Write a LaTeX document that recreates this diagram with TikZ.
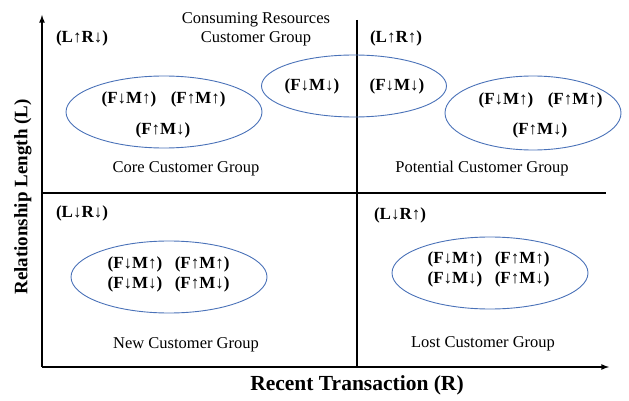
\documentclass[tikz,border=0pt]{standalone}
\usepackage{fontspec}
\setmainfont{Liberation Serif}
\usepackage{xcolor}
\usetikzlibrary{shapes,arrows,positioning}
\definecolor{groupblue}{HTML}{4A72B8}
\tikzset{
  group/.style={ellipse, draw=groupblue, line width=0.9pt},
  quad/.style={font=\bfseries\fontsize{17}{19}\selectfont, inner sep=1pt},
  fm/.style={font=\bfseries\fontsize{17}{19}\selectfont, inner sep=1pt},
  grpname/.style={font=\fontsize{16.5}{19}\selectfont, inner sep=1pt, align=center},
  axislabel/.style={font=\bfseries\fontsize{21.5}{23}\selectfont, inner sep=1pt},
  axisline/.style={line width=1.6pt}
}
\begin{document}
\begin{tikzpicture}[x=1pt,y=-1pt]
\useasboundingbox (0,0) rectangle (629,401);
% axes
\coordinate (O) at (42,367);
\coordinate (ytip) at (42,15);
\coordinate (xtip) at (609,367);
\coordinate (vtop) at (357,20);
\coordinate (vbot) at (357,367);
\coordinate (hleft) at (42,193);
\coordinate (hright) at (606,193);
\draw[axisline,-latex] (O) -- (ytip);
\draw[axisline,-latex] (O) -- (xtip);
\draw[axisline] (vtop) -- (vbot);
\draw[axisline] (hleft) -- (hright);
\node[axislabel] (xlab) at (357,385) {Recent Transaction (R)};
\node[axislabel, font=\bfseries\fontsize{19}{21}\selectfont, rotate=90] (ylab) at (23,197) {Relationship Length (L)};

% quadrant tags
\node[quad] (q1) at (82,38) {(L↑R↓)};%
\node[quad] (q2) at (396,38) {(L↑R↑)};%
\node[quad] (q3) at (82,213) {(L↓R↓)};%
\node[quad] (q4) at (400,215) {(L↓R↑)};%

% groups
\node[group, minimum width=196, minimum height=72] (core) at (164,112) {};%
\node[group, minimum width=185, minimum height=62] (cons) at (354,86) {};%
\node[group, minimum width=176, minimum height=74] (pot) at (533,113) {};%
\node[group, minimum width=196, minimum height=72] (new) at (169,277) {};%
\node[group, minimum width=196, minimum height=72] (lost) at (490,273) {};%

% core
\node[fm] (c1) at (129,99) {(F↓M↑)};%
\node[fm, right=12pt of c1] (c2) {(F↑M↑)};%
\node[fm] (c3) at (163,130) {(F↑M↓)};%
\node[grpname] (corename) at (186,169) {Core Customer Group};%

% consuming resources
\node[fm] (r1) at (312,86) {(F↓M↓)};%
\node[fm] (r2) at (397,86) {(F↓M↓)};%
\node[grpname] (consname) at (256,29) {Consuming Resources\\Customer Group};%

% potential
\node[fm] (p1) at (506,100) {(F↓M↑)};%
\node[fm, right=12pt of p1] (p2) {(F↑M↑)};%
\node[fm] (p3) at (540,130) {(F↑M↓)};%
\node[grpname] (potname) at (482,169) {Potential Customer Group};%

% new
\node[fm] (n1) at (135,264) {(F↓M↑)};%
\node[fm, right=10pt of n1] (n2) {(F↑M↑)};%
\node[fm, below=3pt of n1] (n3) {(F↓M↓)};%
\node[fm, below=3pt of n2] (n4) {(F↑M↓)};%
\node[grpname] (newname) at (186,345) {New Customer Group};%

% lost
\node[fm] (l1) at (455,259) {(F↓M↑)};%
\node[fm, right=10pt of l1] (l2) {(F↑M↑)};%
\node[fm, below=3pt of l1] (l3) {(F↓M↓)};%
\node[fm, below=3pt of l2] (l4) {(F↑M↓)};%
\node[grpname] (lostname) at (483,344) {Lost Customer Group};%
\end{tikzpicture}
\end{document}
